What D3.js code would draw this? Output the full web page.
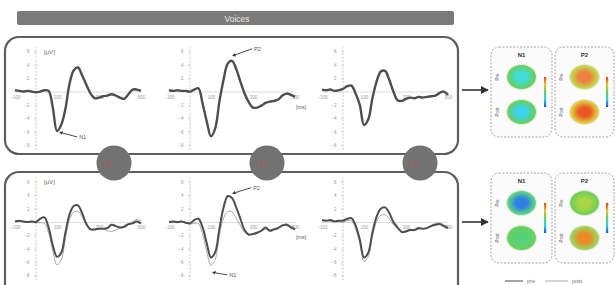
<!DOCTYPE html>
<html><head><meta charset="utf-8">
<script src="https://cdn.jsdelivr.net/npm/d3@7"></script>
<style>body{margin:0;background:#fff;} svg{display:block;font-family:"Liberation Sans",Arial,sans-serif;}</style>
</head><body><svg id="c" width="616" height="285"></svg>
<script>
// ---------- data ----------
const title = "Voices";
const times = [-100,-80,-60,-40,-20,0,20,40,60,80,100,120,140,160,180,200,220,240,260,280,300,320,340,360,380,400,420,440,460,480,500];
const topWave1 = [0.2,0.1,0.0,0.1,0.0,-0.1,0.0,0.2,0.1,-2.4,-5.9,-5.0,-2.6,1.2,3.2,3.6,2.4,1.0,-0.3,-1.0,-0.9,-0.7,-0.6,-0.4,-0.6,-0.9,-1.1,-0.4,0.3,0.3,0.1];
const topWave2 = [0.2,0.1,0.2,0.1,0.1,0.0,0.3,0.5,-1.8,-4.5,-6.7,-5.5,-1.5,1.8,4.2,4.6,3.4,1.5,-0.3,-1.6,-2.4,-2.4,-2.1,-1.7,-1.5,-1.4,-1.2,-0.6,-0.3,-0.5,-0.8];
const topWave3 = [0.3,0.2,0.3,0.1,0.2,0.4,0.8,0.9,-0.3,-2.0,-5.0,-4.2,-1.0,1.5,3.0,3.1,1.8,0.0,-1.3,-1.4,-1.1,-0.9,-1.0,-0.8,-0.9,-0.8,-0.7,-0.6,-0.2,0.0,-0.5];
const bottomDark1 = [0.1,0.2,0.1,0.0,0.1,0.0,0.5,0.7,-0.8,-3.5,-5.2,-4.6,-1.6,1.2,2.4,2.5,1.3,-0.3,-1.1,-1.1,-1.0,-1.0,-0.9,-0.4,-0.6,-0.8,-0.7,-0.3,-0.2,0.1,-0.2];
const bottomLight1 = [0.1,0.1,0.0,0.0,0.0,-0.1,-0.1,-0.2,-1.6,-4.3,-6.4,-5.7,-2.4,0.4,1.5,1.6,0.8,-0.4,-1.0,-1.1,-1.0,-1.0,-1.3,-1.4,-1.2,-0.9,-0.8,-0.4,0.1,0.4,0.2];
const bottomDark2 = [0.0,0.1,0.0,0.1,-0.1,-0.2,0.3,0.5,-0.8,-3.2,-5.3,-4.5,-1.0,2.2,3.9,3.6,2.2,0.5,-1.2,-1.9,-1.8,-1.6,-1.3,-0.8,-1.3,-1.1,-0.9,-0.5,-0.4,-0.8,-1.1];
const bottomLight2 = [0.0,0.0,-0.1,0.0,-0.1,-0.3,-0.2,-0.2,-1.8,-4.4,-6.5,-5.6,-2.0,0.6,1.6,1.5,0.6,-0.5,-1.5,-1.8,-1.7,-1.5,-1.2,-1.1,-1.2,-1.0,-0.8,-0.5,-0.3,-0.6,-0.9];
const bottomDark3 = [0.3,0.2,0.3,0.1,0.2,0.2,0.5,0.6,-0.5,-2.6,-5.3,-4.6,-1.6,0.8,2.0,2.2,1.4,0.0,-0.8,-1.5,-1.4,-1.2,-1.2,-0.9,-1.0,-0.9,-0.6,-0.4,-0.3,-0.6,-0.9];
const bottomLight3 = [0.2,0.2,0.1,0.1,0.0,0.0,0.2,0.2,-1.0,-3.2,-5.9,-5.2,-2.2,0.1,1.0,1.1,0.5,-0.4,-1.0,-1.4,-1.3,-1.1,-1.2,-1.1,-1.0,-0.8,-0.5,-0.2,-0.1,-0.4,-0.6];
const yTicks = [6,4,2,-2,-4,-6,-8];
const xTicks = [-100,100,300,500];
const yUnit = "[µV]";
const xUnit = "[ms]";
const circleLabels = ["n.s.","n.s.","n.s."];
const componentNames = ["N1","P2"];
const mapRowLabels = ["Pre","Post"];
const legendLabels = ["pre","post"];
// annotation anchors in data units: [row, column, label, time, µV]
const annotations = [[0,0,"N1",125,-6.2],[0,1,"P2",215,5.5],[1,1,"P2",215,4.4],[1,1,"N1",120,-7.6]];

// ---------- layout / style ----------
const svg = d3.select("#c");
const defs = svg.append("defs");
const axisXs = [36,190,343];
const zeroYs = [91.5,222];
const waves = [[topWave1,topWave2,topWave3],[bottomDark1,bottomDark2,bottomDark3]];
const lightWaves = [null,[bottomLight1,bottomLight2,bottomLight3]];
const annotOffsets = [[15,4],[17,-6],[16,-5],[12,2]];

defs.append("marker").attr("id","ah").attr("viewBox","0 0 10 10").attr("refX",1).attr("refY",5)
  .attr("markerWidth",4).attr("markerHeight",4).attr("orient","auto-start-reverse")
  .append("path").attr("d","M0,0L10,5L0,10Z").attr("fill","#333");
defs.append("marker").attr("id","ah2").attr("viewBox","0 0 10 10").attr("refX",9).attr("refY",5)
  .attr("markerWidth",5).attr("markerHeight",5).attr("orient","auto")
  .append("path").attr("d","M0,0L10,5L0,10Z").attr("fill","#333");

// title bar
svg.append("rect").attr("x",17).attr("y",11).attr("width",437).attr("height",14).attr("rx",2).attr("fill","#7a7a7a");
svg.append("text").attr("x",237).attr("y",21.5).attr("text-anchor","middle").attr("font-size",8.5)
  .attr("fill","#e8e8e8").text(title);

// panels
svg.append("rect").attr("x",5).attr("y",37).attr("width",453).attr("height",117).attr("rx",14)
  .attr("fill","none").attr("stroke","#5e5e5e").attr("stroke-width",2.2);
svg.append("rect").attr("x",5).attr("y",172).attr("width",453).attr("height",135).attr("rx",14)
  .attr("fill","none").attr("stroke","#5e5e5e").attr("stroke-width",2.2);

// circles between panels
[114,267,420].forEach((cx,i)=>{
  svg.append("circle").attr("cx",cx).attr("cy",163).attr("r",17.5).attr("fill","#727272");
  svg.append("text").attr("x",cx-6).attr("y",165).attr("text-anchor","middle").attr("font-size",6)
    .attr("fill","#d8405e").text(circleLabels[i]);
});

// ERP subplots
const xScales = [], yScales = [];
zeroYs.forEach((zy,r)=>{
  xScales[r]=[]; yScales[r]=[];
  axisXs.forEach((ax,c)=>{
    const x = d3.scaleLinear().domain([-100,500]).range([ax-21,ax+105]);
    const y = d3.scaleLinear().domain([-8,6]).range([zy+53.5,zy-40]);
    xScales[r][c]=x; yScales[r][c]=y;
    const g = svg.append("g");
    g.append("line").attr("x1",ax).attr("x2",ax).attr("y1",y(-8.7)).attr("y2",y(6.7))
      .attr("stroke","#bbb").attr("stroke-width",0.8).attr("stroke-dasharray","2,1.5");
    const ya = g.append("g").attr("transform",`translate(${ax},0)`)
      .call(d3.axisLeft(y).tickValues(yTicks).tickSize(1.5).tickPadding(5));
    ya.select(".domain").remove();
    ya.selectAll("line").attr("stroke","#bbb");
    ya.selectAll("text").attr("font-size",4.5).attr("fill","#999").attr("font-family","Liberation Sans");
    const xa = g.append("g").attr("transform",`translate(0,${y(0)})`)
      .call(d3.axisBottom(x).tickValues(xTicks).tickSize(0).tickPadding(4));
    xa.select(".domain").attr("stroke","#ccc").attr("stroke-width",0.7);
    xa.selectAll("text").attr("font-size",4.5).attr("fill","#999").attr("font-family","Liberation Sans");
    if(c===0){
      g.append("text").attr("x",ax+8).attr("y",y(6)+2).attr("font-size",6).attr("fill","#666").text(yUnit);
    }
    if(c===1){
      g.append("text").attr("x",x(500)+1).attr("y",y(0)+17).attr("font-size",5.5).attr("fill","#666").text(xUnit);
    }
    const line = d3.line().x((d,i)=>x(times[i])).y(d=>y(d)).curve(d3.curveCatmullRom.alpha(0.5));
    if(lightWaves[r]){
      g.append("path").attr("d",line(lightWaves[r][c])).attr("fill","none")
        .attr("stroke","#a8a8a8").attr("stroke-width",1);
    }
    g.append("path").attr("d",line(waves[r][c])).attr("fill","none")
      .attr("stroke","#4e4e4e").attr("stroke-width",r===0?2.4:2);
  });
});

// annotations
annotations.forEach((a,i)=>{
  const [r,c,lab,t,v]=a;
  const px = xScales[r][c](t), py = yScales[r][c](v);
  const [dx,dy]=annotOffsets[i];
  svg.append("line").attr("x1",px).attr("y1",py).attr("x2",px+dx).attr("y2",py+dy)
    .attr("stroke","#333").attr("stroke-width",0.9).attr("marker-start","url(#ah)");
  svg.append("text").attr("x",px+dx+2).attr("y",py+dy+2).attr("font-size",5.5).attr("fill","#555").text(lab);
});

// arrows to maps
[90,222].forEach(yy=>{
  svg.append("line").attr("x1",462).attr("x2",488).attr("y1",yy).attr("y2",yy)
    .attr("stroke","#333").attr("stroke-width",1.6).attr("marker-end","url(#ah2)");
});

// colour gradients
const cb = defs.append("linearGradient").attr("id","cbar").attr("x1",0).attr("x2",0).attr("y1",0).attr("y2",1);
[["0%","#e8401a"],["25%","#f0c030"],["50%","#60d060"],["75%","#30d0e0"],["100%","#2050e0"]]
  .forEach(s=>cb.append("stop").attr("offset",s[0]).attr("stop-color",s[1]));
const headColors = [
  [[["#40dcd8","#66d060"],["#3cd2ec","#66d060"]],[["#ee8040","#c4d84c"],["#e85a22","#e2cc44"]]],
  [[["#2f80e4","#5ad486"],["#56d27a","#68d05c"]],[["#a8d644","#72cf58"],["#ec8a24","#9cd45c"]]]
];
let gid=0;
[47,173].forEach((by,r)=>{
  [[491,61],[555,59]].forEach(([bx,bw],c)=>{
    svg.append("rect").attr("x",bx).attr("y",by).attr("width",bw).attr("height",90).attr("rx",8)
      .attr("fill","#fbfbfb").attr("stroke","#9a9a9a").attr("stroke-width",0.9).attr("stroke-dasharray","2,1.5");
    const cx = bx+bw/2;
    svg.append("text").attr("x",cx).attr("y",by+10).attr("text-anchor","middle").attr("font-size",6)
      .attr("font-weight","bold").attr("fill","#333").text(componentNames[c]);
    [30,65].forEach((oy,k)=>{
      const id="hg"+(gid++);
      const rg = defs.append("radialGradient").attr("id",id).attr("cx","50%").attr("cy","50%").attr("r","55%");
      rg.append("stop").attr("offset","0%").attr("stop-color",headColors[r][c][k][0]);
      rg.append("stop").attr("offset","35%").attr("stop-color",headColors[r][c][k][0]);
      rg.append("stop").attr("offset","80%").attr("stop-color",headColors[r][c][k][1]);
      rg.append("stop").attr("offset","100%").attr("stop-color",headColors[r][c][k][1]);
      svg.append("ellipse").attr("cx",cx).attr("cy",by+oy).attr("rx",15).attr("ry",12.5)
        .attr("fill",`url(#${id})`).attr("stroke","#e4ecdc").attr("stroke-width",1.2);
      svg.append("text").attr("transform",`translate(${bx+8},${by+oy}) rotate(-90)`)
        .attr("text-anchor","middle").attr("font-size",4.5).attr("fill","#666").text(mapRowLabels[k]);
    });
    svg.append("rect").attr("x",bx+bw-8).attr("y",by+30).attr("width",2.2).attr("height",30)
      .attr("fill","url(#cbar)");
  });
});

// legend
[[505,523,"#6a6a6a",1.2],[545,568,"#aaaaaa",1]].forEach((s,i)=>{
  svg.append("line").attr("x1",s[0]).attr("x2",s[1]).attr("y1",281).attr("y2",281)
    .attr("stroke",s[2]).attr("stroke-width",s[3]);
  svg.append("text").attr("x",s[1]+4).attr("y",283).attr("font-size",5.5).attr("fill","#777").text(legendLabels[i]);
});
</script></body></html>
